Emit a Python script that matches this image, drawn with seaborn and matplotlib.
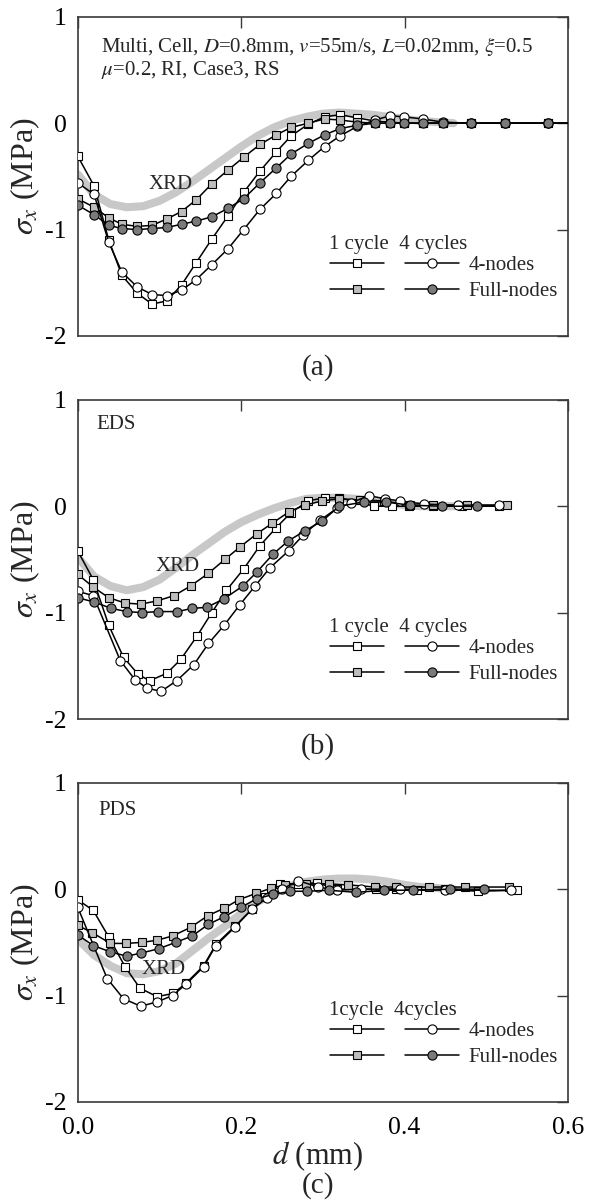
import matplotlib
matplotlib.use("Agg")
import matplotlib.pyplot as plt
import seaborn as sns

# ---------------- data ----------------
# Panel (a)
a_x = [0, 0.02, 0.038, 0.054, 0.073, 0.091, 0.109, 0.127, 0.145, 0.164, 0.184, 0.203, 0.223,
       0.243, 0.261, 0.282, 0.302, 0.321, 0.342, 0.364, 0.382, 0.399, 0.422, 0.447, 0.481,
       0.523, 0.576, 0.6]
a_sq1 = [-0.31, -0.59, -1.10, -1.43, -1.60, -1.70, -1.67, -1.52, -1.31, -1.09, -0.87, -0.65,
         -0.45, -0.27, -0.12, -0.01, 0.06, 0.08, 0.05, 0.02, 0.01, 0.0, 0.0, 0.0, 0.0, 0.0, 0.0, 0.0]
a_sq_full = [-0.71, -0.79, -0.89, -0.95, -0.97, -0.96, -0.90, -0.83, -0.72, -0.57, -0.44, -0.32,
             -0.20, -0.11, -0.04, 0.0, 0.04, 0.03, 0.01, 0.0, 0.0, 0.0, 0.0, 0.0, 0.0, 0.0, 0.0, 0.0]
a_ci4 = [-0.56, -0.67, -1.12, -1.40, -1.54, -1.61, -1.62, -1.57, -1.47, -1.33, -1.18, -1.0,
         -0.81, -0.66, -0.50, -0.35, -0.22, -0.12, -0.03, 0.03, 0.07, 0.06, 0.04, 0.01, 0.0,
         0.0, 0.0, 0.0]
a_ci_full = [-0.77, -0.86, -0.96, -0.99, -1.0, -0.99, -0.98, -0.95, -0.92, -0.88, -0.80, -0.71,
             -0.56, -0.42, -0.29, -0.19, -0.11, -0.05, -0.02, 0.0, 0.0, 0.0, 0.0, 0.0, 0.0,
             0.0, 0.0, 0.0]

# Panel (b)
b_sq1_x = [0, 0.019, 0.038, 0.056, 0.074, 0.088, 0.109, 0.126, 0.146, 0.164, 0.182, 0.203,
           0.223, 0.243, 0.261, 0.282, 0.302, 0.32, 0.363, 0.384, 0.405, 0.435, 0.47, 0.516]
b_sq1 = [-0.42, -0.69, -1.12, -1.42, -1.58, -1.64, -1.57, -1.44, -1.22, -1.0, -0.79, -0.59,
         -0.37, -0.20, -0.06, 0.05, 0.08, 0.08, 0.0, 0.0, 0.0, 0.0, 0.0, 0.0]
b_sqf_x = [0, 0.019, 0.038, 0.058, 0.077, 0.097, 0.118, 0.138, 0.16, 0.18, 0.199, 0.219,
           0.238, 0.259, 0.278, 0.299, 0.32, 0.345, 0.375, 0.406, 0.435, 0.476, 0.525]
b_sq_full = [-0.64, -0.76, -0.86, -0.91, -0.92, -0.89, -0.84, -0.75, -0.63, -0.50, -0.38,
             -0.26, -0.16, -0.05, 0.01, 0.05, 0.07, 0.06, 0.05, 0.01, 0.01, 0.01, 0.01]
b_ci4_x = [0, 0.019, 0.052, 0.07, 0.085, 0.102, 0.121, 0.142, 0.16, 0.179, 0.198, 0.217,
           0.235, 0.258, 0.276, 0.297, 0.317, 0.334, 0.356, 0.376, 0.394, 0.424, 0.465, 0.516]
b_ci4 = [-0.80, -0.84, -1.45, -1.63, -1.71, -1.74, -1.64, -1.49, -1.29, -1.12, -0.93, -0.75,
         -0.58, -0.42, -0.27, -0.13, -0.02, 0.03, 0.10, 0.07, 0.05, 0.02, 0.01, 0.01]
b_cif_x = [0, 0.02, 0.041, 0.06, 0.079, 0.098, 0.122, 0.14, 0.158, 0.179, 0.202, 0.219,
           0.239, 0.257, 0.278, 0.299, 0.32, 0.35, 0.377, 0.406, 0.446, 0.488]
b_ci_full = [-0.86, -0.90, -0.96, -0.99, -1.0, -0.99, -0.99, -0.96, -0.95, -0.87, -0.75,
             -0.62, -0.45, -0.33, -0.23, -0.14, 0.0, 0.04, 0.04, 0.01, 0.0, 0.0]

# Panel (c)
c_sq1_x = [0, 0.019, 0.038, 0.058, 0.076, 0.097, 0.117, 0.133, 0.154, 0.169, 0.192, 0.213,
           0.229, 0.247, 0.27, 0.293, 0.317, 0.34, 0.365, 0.39, 0.415, 0.45, 0.49, 0.538]
c_sq1 = [-0.10, -0.20, -0.45, -0.73, -0.93, -1.01, -0.98, -0.88, -0.72, -0.52, -0.35, -0.19,
         -0.07, 0.05, 0.05, 0.06, 0.0, 0.0, 0.0, 0.0, -0.01, 0.0, -0.02, -0.01]
c_sqf_x = [0, 0.018, 0.04, 0.059, 0.079, 0.097, 0.116, 0.138, 0.159, 0.179, 0.197, 0.218,
           0.237, 0.254, 0.279, 0.307, 0.331, 0.364, 0.39, 0.43, 0.474, 0.528]
c_sq_full = [-0.34, -0.41, -0.51, -0.51, -0.50, -0.48, -0.44, -0.36, -0.25, -0.18, -0.10,
             -0.04, 0.01, 0.04, 0.05, 0.05, 0.04, 0.02, 0.02, 0.02, 0.02, 0.02]
c_ci4_x = [0, 0.036, 0.056, 0.077, 0.097, 0.116, 0.133, 0.154, 0.169, 0.192, 0.213, 0.232,
           0.25, 0.27, 0.294, 0.317, 0.347, 0.394, 0.45, 0.53]
c_ci4 = [-0.17, -0.84, -1.03, -1.10, -1.06, -1.0, -0.89, -0.73, -0.53, -0.36, -0.19, -0.08,
         0.0, 0.08, 0.02, -0.01, 0.0, 0.0, -0.01, -0.01]
c_cif_x = [0, 0.019, 0.04, 0.06, 0.078, 0.099, 0.12, 0.14, 0.16, 0.179, 0.2, 0.219, 0.239,
           0.26, 0.281, 0.307, 0.341, 0.375, 0.41, 0.456, 0.497]
c_ci_full = [-0.43, -0.53, -0.59, -0.63, -0.60, -0.56, -0.50, -0.44, -0.33, -0.26, -0.17,
             -0.09, -0.05, -0.02, -0.02, -0.01, -0.03, -0.01, -0.01, 0.0, 0.0]

# XRD measurement bands
xrd_x = [0, 0.02, 0.04, 0.06, 0.08, 0.10, 0.12, 0.14, 0.16, 0.18, 0.20, 0.22, 0.24, 0.26,
         0.28, 0.30, 0.32, 0.34, 0.36, 0.38, 0.40, 0.42, 0.44, 0.46]
xrd_a = [-0.48, -0.67, -0.76, -0.79, -0.78, -0.73, -0.65, -0.55, -0.44, -0.33, -0.22, -0.12,
         -0.04, 0.02, 0.06, 0.09, 0.10, 0.09, 0.08, 0.06, 0.04, 0.02, 0.01, 0.0]
xrd_b = [-0.48, -0.66, -0.75, -0.79, -0.76, -0.69, -0.58, -0.46, -0.35, -0.24, -0.15, -0.08,
         -0.02, 0.03, 0.07, 0.08, 0.08, 0.07, 0.05, 0.03, 0.01, 0.0, 0.0, 0.0]
xrd_c = [-0.47, -0.62, -0.72, -0.79, -0.80, -0.77, -0.70, -0.58, -0.46, -0.35, -0.23, -0.12,
         -0.04, 0.03, 0.07, 0.09, 0.10, 0.10, 0.09, 0.07, 0.04, 0.02, 0.01, 0.0]

x_ticks = [0.0, 0.2, 0.4, 0.6]
x_ticklabels = ["0.0", "0.2", "0.4", "0.6"]
y_ticks = [-2, -1, 0, 1]
y_ticklabels = ["-2", "-1", "0", "1"]
legend_labels = ["", "", "4-nodes", "Full-nodes"]
panel_tags = ["(a)", "(b)", "(c)"]
legend_titles = ["1 cycle  4 cycles", "1 cycle  4 cycles", "1cycle  4cycles"]
info_texts = [[r"Multi, Cell, $D$=0.8mm, $v$=55m/s, $L$=0.02mm, $\xi$=0.5",
               r"$\mu$=0.2, RI, Case3, RS"], ["EDS"], ["PDS"]]

# ---------------- style ----------------
sns.set_theme(style="white")
plt.rcParams["font.family"] = ["Liberation Serif", "DejaVu Serif"]
plt.rcParams["mathtext.fontset"] = "stix"
plt.rcParams["axes.unicode_minus"] = False

WHITE, LGRAY, DGRAY, XRDC = "white", "#bdbdbd", "#7a7a7a", "#c8c8c8"
SPINE = "#3a3a3a"

fig = plt.figure(figsize=(5.89, 12), dpi=100)
LEFT, WIDTH, HEIGHT = 0.132, 0.8324, 0.266
bottoms = [0.72, 0.4008, 0.0817]

panels = [
    dict(xrd=xrd_a, series=[(a_x, a_sq1), (a_x, a_sq_full), (a_x, a_ci4), (a_x, a_ci_full)],
         xrd_lbl=(0.114, -0.58), info_pos=[(0.047, 0.906), (0.047, 0.832)], tag_y=-0.10),
    dict(xrd=xrd_b, series=[(b_sq1_x, b_sq1), (b_sqf_x, b_sq_full), (b_ci4_x, b_ci4),
                            (b_cif_x, b_ci_full)],
         xrd_lbl=(0.122, -0.57), info_pos=[(0.037, 0.923)], tag_y=-0.085),
    dict(xrd=xrd_c, series=[(c_sq1_x, c_sq1), (c_sqf_x, c_sq_full), (c_ci4_x, c_ci4),
                            (c_cif_x, c_ci_full)],
         xrd_lbl=(0.105, -0.755), info_pos=[(0.042, 0.914)], tag_y=-0.262),
]

styles = [("s", WHITE, 6.0), ("s", LGRAY, 6.0), ("o", WHITE, 6.6), ("o", DGRAY, 6.6)]

for i, p in enumerate(panels):
    ax = fig.add_axes([LEFT, bottoms[i], WIDTH, HEIGHT])
    sns.lineplot(x=xrd_x, y=p["xrd"], ax=ax, color=XRDC, linewidth=5.8, estimator=None,
                 sort=False, zorder=1)
    handles = []
    for (xs, ys), (mk, fc, ms) in zip(p["series"], styles):
        n = len(xs)
        me = list(range(n - 1)) if xs[-1] >= 0.6 else None
        sns.lineplot(x=xs, y=ys, ax=ax, color="black", linewidth=1.1, marker=mk,
                     markersize=ms, markerfacecolor=fc, markeredgecolor="black",
                     markeredgewidth=0.8, markevery=me, estimator=None, sort=False,
                     zorder=3)
        handles.append(ax.lines[-1])

    ax.set_xlim(0, 0.6)
    ax.set_ylim(-2, 1)
    ax.set_xticks(x_ticks)
    ax.set_yticks(y_ticks)
    ax.set_yticklabels(y_ticklabels)
    if i == 2:
        ax.set_xticklabels(x_ticklabels)
        ax.set_xlabel(r"$d$ (mm)", fontsize=22)
        ax.xaxis.set_label_coords(0.49, -0.118)
    else:
        ax.set_xticklabels([])
        ax.set_xlabel("")
    ax.tick_params(direction="in", top=True, right=True, length=8, width=1.0,
                   colors=SPINE, labelcolor="black", labelsize=18.5)
    ax.tick_params(axis="y", pad=8)
    ax.tick_params(axis="x", pad=11)
    for s in ax.spines.values():
        s.set_color(SPINE)
        s.set_linewidth(1.2)
    ax.set_ylabel(r"$\sigma_x$ (MPa)", fontsize=23)
    ax.yaxis.set_label_coords(-0.072, 0.5)

    ax.text(p["xrd_lbl"][0], p["xrd_lbl"][1], "XRD", fontsize=15, ha="center",
            va="center", zorder=5)
    for txt, (tx, ty) in zip(info_texts[i], p["info_pos"]):
        ax.text(tx, ty, txt, fontsize=15, ha="left", va="center", transform=ax.transAxes)

    # legend: column header as text, entries as a two-column legend
    ax.text(0.512, 0.286, legend_titles[i], fontsize=15, ha="left", va="center",
            transform=ax.transAxes)
    ax.legend(handles, legend_labels, ncol=2, loc="upper left",
              bbox_to_anchor=(0.514, 0.252), frameon=False, fontsize=15,
              handlelength=2.6, handletextpad=0.45, columnspacing=0.55,
              labelspacing=0.3, borderpad=0, borderaxespad=0)
    ax.text(0.49, p["tag_y"], panel_tags[i], fontsize=21, ha="center", va="center",
            transform=ax.transAxes)

fig.savefig("out.png", dpi=100)
